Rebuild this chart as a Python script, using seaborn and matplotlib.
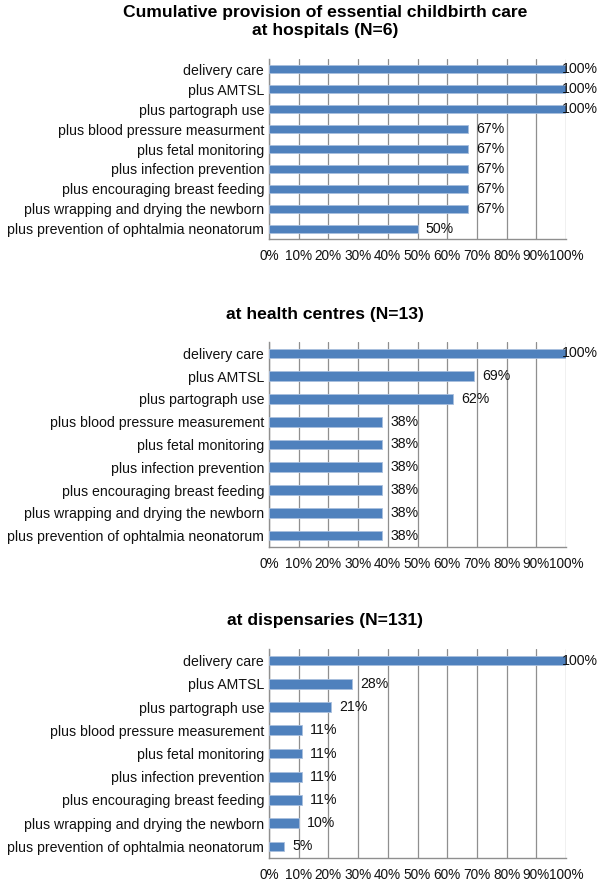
import matplotlib
matplotlib.use("Agg")
import matplotlib.pyplot as plt
import pandas as pd
import seaborn as sns

sns.set_theme(style="white")
plt.rcParams["font.family"] = ["Liberation Sans", "DejaVu Sans"]

BAR_COLOR = "#4F81BD"
GRID_COLOR = "#8f8f8f"

steps_hosp = ["delivery care", "plus AMTSL", "plus partograph use",
              "plus blood pressure measurment", "plus fetal monitoring",
              "plus infection prevention", "plus encouraging breast feeding",
              "plus wrapping and drying the newborn",
              "plus prevention of ophtalmia neonatorum"]
steps_other = ["delivery care", "plus AMTSL", "plus partograph use",
               "plus blood pressure measurement", "plus fetal monitoring",
               "plus infection prevention", "plus encouraging breast feeding",
               "plus wrapping and drying the newborn",
               "plus prevention of ophtalmia neonatorum"]

hospitals = [100, 100, 100, 67, 67, 67, 67, 67, 50]
health_centres = [100, 69, 62, 38, 38, 38, 38, 38, 38]
dispensaries = [100, 28, 21, 11, 11, 11, 11, 10, 5]

x_ticks = list(range(0, 101, 10))
x_ticklabels = [f"{t}%" for t in x_ticks]

titles = ["Cumulative provision of essential childbirth care\nat hospitals (N=6)",
          "at health centres (N=13)",
          "at dispensaries (N=131)"]

W, H = 600, 884
fig = plt.figure(figsize=(W / 100, H / 100), dpi=100)

# (top px, bottom px) of each plot area, title centre px
panels = [
    (steps_hosp, hospitals, 59, 239, 21),
    (steps_other, health_centres, 342, 547, 314),
    (steps_other, dispensaries, 649, 858, 621),
]
left_px, right_px = 269, 566
FS = 10.2

for (steps, vals, top, bot, ty), title in zip(panels, titles):
    ax = fig.add_axes([left_px / W, 1 - bot / H, (right_px - left_px) / W, (bot - top) / H])
    df = pd.DataFrame({"step": steps, "pct": vals})
    sns.barplot(data=df, x="pct", y="step", orient="h", color=BAR_COLOR,
                width=0.42, saturation=1, edgecolor="#a9bfdd", linewidth=0.6,
                ax=ax, zorder=3)
    ax.set_xlim(0, 100)
    ax.set_xticks(x_ticks)
    ax.set_xticklabels(x_ticklabels)
    ax.set_xlabel("")
    ax.set_ylabel("")
    ax.grid(axis="x", color=GRID_COLOR, linewidth=0.9, zorder=0)
    ax.grid(axis="y", visible=False)
    for side in ["top", "right"]:
        ax.spines[side].set_visible(False)
    for side in ["left", "bottom"]:
        ax.spines[side].set_color(GRID_COLOR)
        ax.spines[side].set_linewidth(1.0)
    ax.tick_params(axis="x", length=0, pad=7, labelsize=9.8, colors="#111111")
    ax.tick_params(axis="y", length=0, pad=3.5, labelsize=FS, colors="#111111")

    for i, v in enumerate(vals):
        off = -3 if v >= 100 else 6
        ax.annotate(f"{v}%", xy=(v, i), xytext=(off, 0), textcoords="offset points",
                    ha="left", va="center", fontsize=FS, color="#111111",
                    annotation_clip=False, zorder=4)

    fig.text(325 / W, 1 - ty / H, title, ha="center", va="center",
             fontsize=12.6, fontweight="bold", color="black", linespacing=1.25)

fig.savefig("out.png", dpi=100)
